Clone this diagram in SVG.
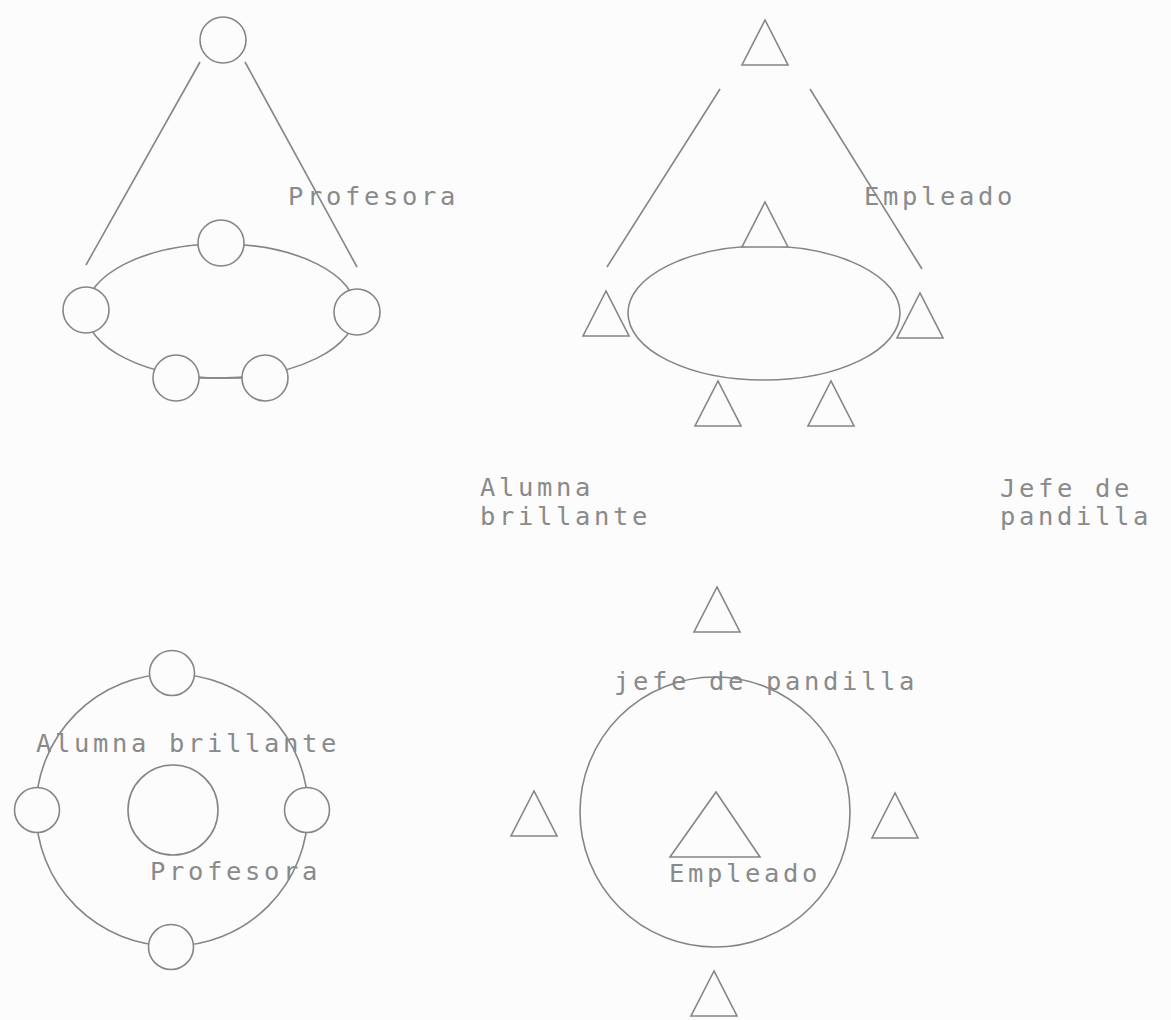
<svg xmlns="http://www.w3.org/2000/svg" width="1171" height="1020" viewBox="0 0 1171 1020">
<style>
.s{fill:none;stroke:#858585;stroke-width:1.6}
.n{fill:#fcfcfc;stroke:#858585;stroke-width:1.6}
.t{font-family:"DejaVu Sans Mono","Liberation Mono",monospace;font-size:25.5px;letter-spacing:3.65px;fill:#8a8a8a}
</style>
<defs>
<polygon id="tri" points="0,0 -23,45 23,45"/>
</defs>
<rect width="1171" height="1020" fill="#fcfcfc"/>
<g id="connectors">
<line class="s" x1="200" y1="62" x2="86" y2="265"/>
<line class="s" x1="245" y1="62" x2="357" y2="267"/>
<line class="s" x1="720" y1="89" x2="607" y2="267"/>
<line class="s" x1="810" y1="89" x2="922" y2="269"/>
</g>
<g id="ring-top-left"><ellipse class="s" cx="221" cy="311" rx="135" ry="67"/></g>
<g id="ring-top-right"><ellipse class="s" cx="764" cy="313" rx="136" ry="67"/></g>
<g id="ring-bottom-left"><circle class="s" cx="172" cy="810" r="136"/></g>
<g id="ring-bottom-right"><circle class="s" cx="715" cy="812" r="135"/></g>
<g id="tl-top"><circle class="n" cx="223" cy="40" r="23"/></g>
<g id="tl-c1"><circle class="n" cx="221" cy="243" r="23"/></g>
<g id="tl-c2"><circle class="n" cx="86" cy="310" r="23"/></g>
<g id="tl-c3"><circle class="n" cx="357" cy="312" r="23"/></g>
<g id="tl-c4"><circle class="n" cx="176" cy="378" r="23"/></g>
<g id="tl-c5"><circle class="n" cx="265" cy="378" r="23"/></g>
<g id="tl-bar"><line class="s" x1="199" y1="378" x2="242" y2="378"/></g>
<g id="tr-top"><use href="#tri" class="n" x="765" y="20"/></g>
<g id="tr-t1"><use href="#tri" class="n" x="765" y="202"/></g>
<g id="tr-t2"><use href="#tri" class="n" x="606" y="291"/></g>
<g id="tr-t3"><use href="#tri" class="n" x="920" y="293"/></g>
<g id="tr-t4"><use href="#tri" class="n" x="718" y="381"/></g>
<g id="tr-t5"><use href="#tri" class="n" x="831" y="381"/></g>
<g id="bl-c1"><circle class="n" cx="172" cy="673" r="22.5"/></g>
<g id="bl-c2"><circle class="n" cx="37" cy="810" r="22.5"/></g>
<g id="bl-c3"><circle class="n" cx="307" cy="810" r="22.5"/></g>
<g id="bl-c4"><circle class="n" cx="171" cy="947" r="22.5"/></g>
<g id="bl-center"><circle class="n" cx="173" cy="810" r="45"/></g>
<g id="br-t1"><use href="#tri" class="n" x="717" y="587"/></g>
<g id="br-t2"><use href="#tri" class="n" x="534" y="791"/></g>
<g id="br-t3"><use href="#tri" class="n" x="895" y="793"/></g>
<g id="br-t4"><use href="#tri" class="n" x="714" y="971"/></g>
<g id="br-center"><polygon class="n" points="716,792 670,857 760,857"/></g>
<g id="labels">
<text class="t" x="288" y="205">Profesora</text>
<text class="t" x="864" y="205">Empleado</text>
<text class="t" x="480" y="496">Alumna</text>
<text class="t" x="480" y="525">brillante</text>
<text class="t" x="1000" y="497">Jefe de</text>
<text class="t" x="1000" y="525">pandilla</text>
<text class="t" x="36" y="752">Alumna brillante</text>
<text class="t" x="150" y="880">Profesora</text>
<text class="t" x="614" y="690">jefe de pandilla</text>
<text class="t" x="669" y="882">Empleado</text>
</g>
</svg>
